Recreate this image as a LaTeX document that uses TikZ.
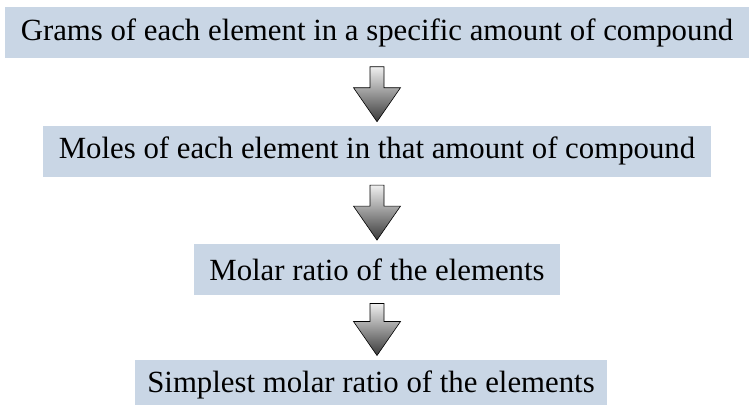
\documentclass[tikz,border=0pt]{standalone}
\usepackage{fontspec}
\setmainfont{Liberation Serif}
\usetikzlibrary{positioning,calc}
\definecolor{stepblue}{HTML}{C9D6E5}
\definecolor{arrowlight}{HTML}{EFEFEF}
\definecolor{arrowdark}{HTML}{3A3A3A}

\newcommand{\flowarrow}[2]{%
  \path[arr] let \p1=(#1.south), \p2=(#2.north) in
    (\x1-7pt,\y1-8pt) -- (\x1+7pt,\y1-8pt) -- (\x1+7pt,\y2+38pt)
    -- (\x1+23.5pt,\y2+38pt) -- (\x1,\y2+4pt) -- (\x1-23.5pt,\y2+38pt)
    -- (\x1-7pt,\y2+38pt) -- cycle;}

\begin{document}
\begin{tikzpicture}[
  node distance=67pt,
  box/.style={fill=stepblue, inner xsep=15.5pt, inner ysep=0pt, minimum height=51pt, font=\fontsize{30.8}{37}\selectfont},
  arr/.style={draw=black, line width=0.6pt, top color=arrowlight, bottom color=arrowdark}
]
\useasboundingbox (0,0) rectangle (749pt,-404pt);
\node[box] (grams) at (377pt,-33pt) {Grams of each element in a specific amount of compound};
\node[box, below=of grams] (moles) {Moles of each element in that amount of compound};
\node[box, below=of moles] (ratio) {Molar ratio of the elements};
\node[box, below=64pt of ratio, xshift=-6pt, inner xsep=12pt] (simplest) {Simplest molar ratio of the elements};
\flowarrow{grams}{moles}
\flowarrow{moles}{ratio}
\flowarrow{ratio}{simplest}
\end{tikzpicture}
\end{document}
